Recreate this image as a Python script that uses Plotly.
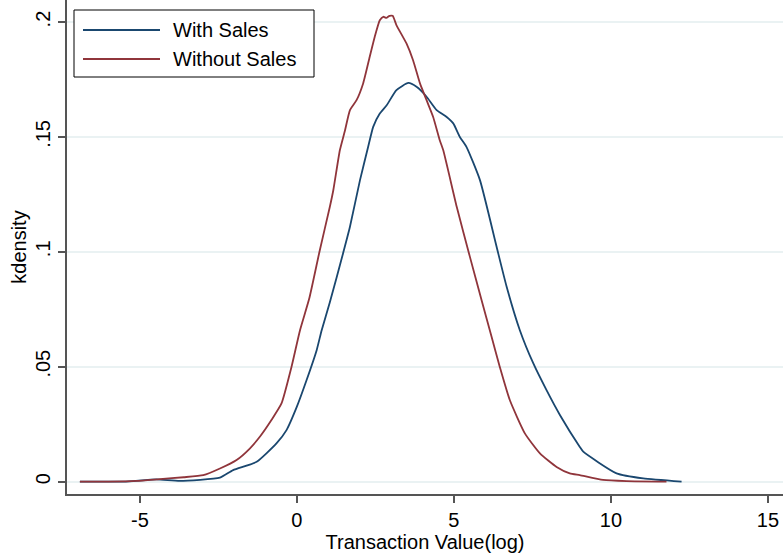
import plotly.graph_objects as go

# Kernel density estimates of log transaction value
with_sales_x = [-6.91, -5.5, -4.47, -3.73, -2.45, -2.03, -1.28, -0.65, -0.33, 0.0, 0.31, 0.63,
                0.79, 1.05, 1.47, 1.69, 2.01, 2.27, 2.43, 2.64, 2.86, 3.17, 3.55, 3.81, 4.13,
                4.45, 4.77, 4.98, 5.19, 5.40, 5.83, 6.36, 6.68, 7.10, 7.53, 7.95, 8.38, 9.01,
                9.12, 10.18, 11.03, 12.25]
with_sales_y = [0.0, 0.0, 0.001, 0.0003, 0.0017, 0.005, 0.0086, 0.0166, 0.0224, 0.0326, 0.0442,
                0.0572, 0.0659, 0.0780, 0.0993, 0.1109, 0.1312, 0.1457, 0.1544, 0.1602, 0.1638,
                0.1704, 0.1735, 0.1718, 0.1675, 0.1617, 0.1587, 0.1559, 0.1500, 0.1457, 0.1312,
                0.1022, 0.0848, 0.0659, 0.0514, 0.0398, 0.0289, 0.0151, 0.0130, 0.0036, 0.0014,
                0.0]

without_sales_x = [-6.91, -6.0, -5.1, -4.36, -3.6, -2.98, -2.45, -1.92, -1.50, -1.18, -0.81,
                   -0.49, -0.17, 0.10, 0.40, 0.73, 1.05, 1.16, 1.37, 1.53, 1.69, 1.90, 2.11,
                   2.32, 2.48, 2.64, 2.75, 2.85, 2.95, 3.05, 3.17, 3.49, 3.70, 3.92, 4.13, 4.34,
                   4.55, 4.66, 5.09, 5.51, 5.88, 6.20, 6.46, 6.78, 7.26, 7.74, 8.27, 8.69, 9.01,
                   9.75, 10.5, 11.77]
without_sales_y = [0.0, 0.0, 0.0003, 0.0011, 0.0019, 0.0028, 0.0057, 0.0094, 0.0144, 0.0195,
                   0.0268, 0.0340, 0.0500, 0.0659, 0.0800, 0.1007, 0.1196, 0.1268, 0.1443,
                   0.1527, 0.1617, 0.1660, 0.1733, 0.1849, 0.1936, 0.2008, 0.2023, 0.2018,
                   0.2027, 0.2027, 0.1987, 0.1907, 0.1834, 0.1733, 0.1660, 0.1587, 0.1486,
                   0.1443, 0.1196, 0.0978, 0.0790, 0.0630, 0.0500, 0.0355, 0.0210, 0.0123,
                   0.0064, 0.0036, 0.0028, 0.0007, 0.0002, 0.0]

series_names = ["With Sales", "Without Sales"]
series_colors = ["#1a476f", "#90353b"]

y_tickvals = [0, 0.05, 0.1, 0.15, 0.2]
y_ticktext = ["0", ".05", ".1", ".15", ".2"]
x_tickvals = [-5, 0, 5, 10, 15]
x_ticktext = ["-5", "0", "5", "10", "15"]

FONT = "Liberation Sans, Arial, Helvetica, sans-serif"
FS = 20

fig = go.Figure()
for xs, ys, name, color in [
    (with_sales_x, with_sales_y, series_names[0], series_colors[0]),
    (without_sales_x, without_sales_y, series_names[1], series_colors[1]),
]:
    fig.add_trace(go.Scatter(x=xs, y=ys, mode="lines", name=name,
                             line=dict(color=color, width=1.8, shape="spline", smoothing=0.5),
                             showlegend=False))

# Legend box drawn in paper coordinates
W, H = 716.0, 494.0  # plot area size in px
def px(x): return (x - 67) / W
def py(y): return (494 - y) / H

shapes = [dict(type="rect", xref="paper", yref="paper",
               x0=px(74), x1=px(314), y0=py(77), y1=py(10),
               line=dict(color="black", width=1), fillcolor="white", layer="above")]
annotations = []
for i, (name, color) in enumerate(zip(series_names, series_colors)):
    yy = 30 + 29 * i
    shapes.append(dict(type="line", xref="paper", yref="paper",
                       x0=px(83), x1=px(160), y0=py(yy), y1=py(yy),
                       line=dict(color=color, width=1.8), layer="above"))
    annotations.append(dict(xref="paper", yref="paper", x=px(171), y=py(yy),
                            text=name, showarrow=False, xanchor="left", yanchor="middle",
                            font=dict(size=FS, color="black", family=FONT)))

fig.update_layout(
    width=783, height=557,
    margin=dict(l=67, r=0, t=0, b=63),
    paper_bgcolor="white", plot_bgcolor="white",
    font=dict(family=FONT, size=FS, color="black"),
    shapes=shapes, annotations=annotations,
    showlegend=False,
)
fig.update_xaxes(
    range=[-7.32, 15.48], tickvals=x_tickvals, ticktext=x_ticktext, ticks="outside", ticklen=7,
    tickcolor="#555555", tickwidth=1.5, showline=True, linecolor="#555555", linewidth=1.5,
    showgrid=False, zeroline=False, tickfont=dict(size=FS),
    title=dict(text="Transaction Value(log)", standoff=0, font=dict(size=FS)),
)
fig.update_yaxes(
    range=[-0.0054, 0.2096], tickvals=y_tickvals, ticktext=y_ticktext, tickangle=-90,
    ticks="outside", ticklen=7, tickcolor="#555555", tickwidth=1.5,
    showline=True, linecolor="#555555", linewidth=1.5, tickfont=dict(size=FS),
    showgrid=True, gridcolor="#eaf2f3", gridwidth=1.5, zeroline=False,
    title=dict(text="kdensity", standoff=0, font=dict(size=FS)),
)

fig.write_html("out.html")
